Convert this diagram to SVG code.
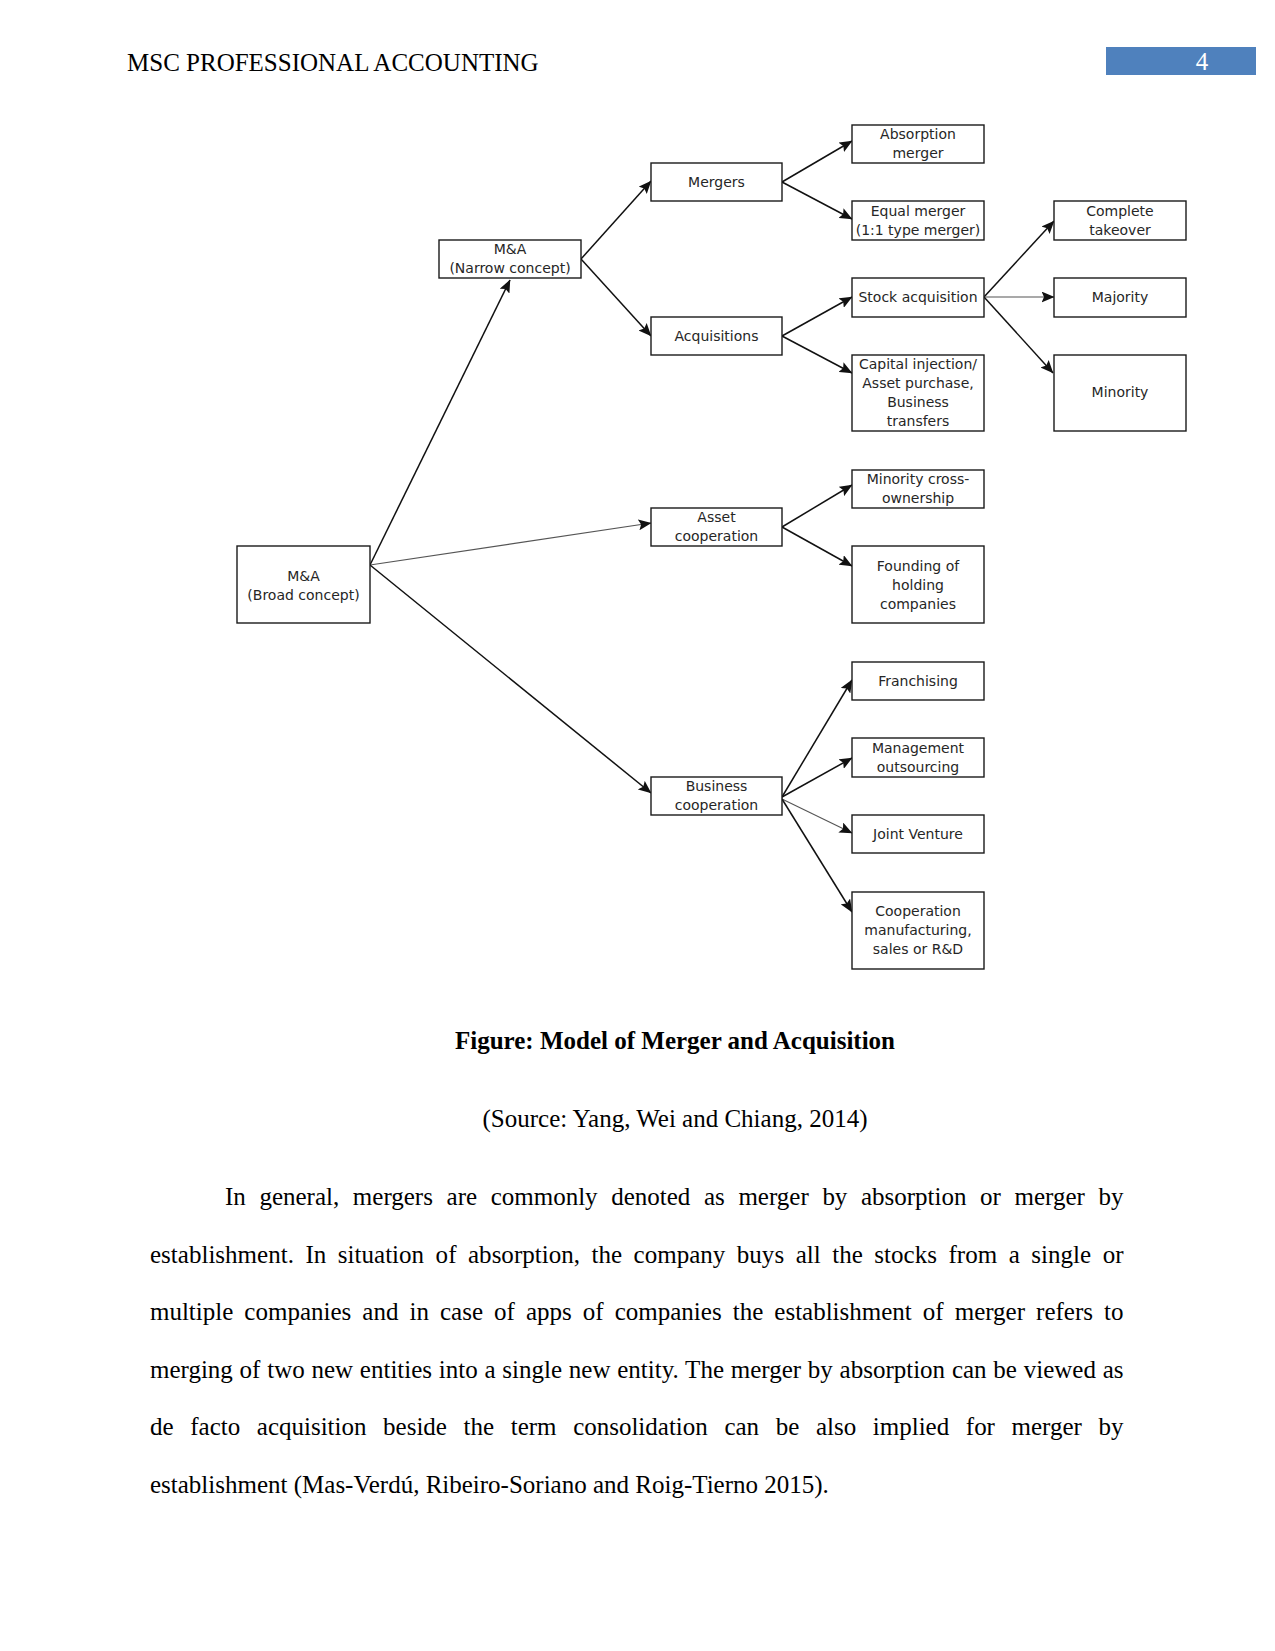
<svg xmlns="http://www.w3.org/2000/svg" width="1275" height="1651" viewBox="0 0 1275 1651">
<style>
.page{font-family:"Liberation Serif","Times New Roman",serif;font-size:25px;fill:#000}
.bold{font-weight:bold}
.box{fill:#fff;stroke:#1a1a1a;stroke-width:1.4}
.lbl{font-family:"DejaVu Sans",Verdana,sans-serif;font-size:14px;fill:#262626;text-anchor:middle}
.edge{stroke:#111;stroke-width:1.5;fill:none;marker-end:url(#ah)}
.thin{stroke:#555;stroke-width:1.1;fill:none;marker-end:url(#ah)}
</style>
<defs>
<marker id="ah" markerUnits="userSpaceOnUse" markerWidth="13" markerHeight="11" viewBox="0 0 13 11" refX="12.5" refY="5.5" orient="auto">
<path d="M0,0 L13,5.5 L0,11 L2.5,5.5 z" fill="#111"/>
</marker>
</defs>
<rect width="1275" height="1651" fill="#fff"/>
<!-- header -->
<text class="page" x="127" y="71">MSC PROFESSIONAL ACCOUNTING</text>
<rect x="1106" y="47" width="150" height="28" fill="#4F81BD"/>
<text class="page" x="1202" y="70" text-anchor="middle" style="fill:#fff">4</text>

<!-- connectors -->
<g id="connectors">
<line class="edge" x1="370" y1="565" x2="510" y2="280"/>
<line class="thin" x1="370" y1="565" x2="651" y2="523"/>
<line class="edge" x1="370" y1="565" x2="651" y2="793"/>
<line class="edge" x1="581" y1="259" x2="651" y2="181"/>
<line class="edge" x1="581" y1="259" x2="651" y2="336"/>
<line class="edge" x1="782" y1="182" x2="852" y2="141"/>
<line class="edge" x1="782" y1="182" x2="852" y2="219"/>
<line class="edge" x1="782" y1="336" x2="852" y2="297"/>
<line class="edge" x1="782" y1="336" x2="852" y2="373"/>
<line class="edge" x1="984" y1="297" x2="1054" y2="221"/>
<line class="thin" x1="984" y1="297" x2="1054" y2="297"/>
<line class="edge" x1="984" y1="297" x2="1053" y2="373"/>
<line class="edge" x1="782" y1="527" x2="852" y2="485"/>
<line class="edge" x1="782" y1="527" x2="852" y2="566"/>
<line class="edge" x1="782" y1="797" x2="852" y2="680"/>
<line class="edge" x1="782" y1="797" x2="852" y2="758"/>
<line class="thin" x1="782" y1="799" x2="852" y2="833"/>
<line class="edge" x1="782" y1="799" x2="852" y2="912"/>
</g>

<!-- nodes -->
<g id="broad"><rect class="box" x="237" y="546" width="133" height="77"/>
<text class="lbl" x="303.5" y="581">M&amp;A</text><text class="lbl" x="303.5" y="600">(Broad concept)</text></g>
<g id="narrow"><rect class="box" x="439" y="240" width="142" height="38"/>
<text class="lbl" x="510" y="254">M&amp;A</text><text class="lbl" x="510" y="273">(Narrow concept)</text></g>
<g id="mergers"><rect class="box" x="651" y="163" width="131" height="38"/>
<text class="lbl" x="716.5" y="187">Mergers</text></g>
<g id="acquisitions"><rect class="box" x="651" y="317" width="131" height="38"/>
<text class="lbl" x="716.5" y="341">Acquisitions</text></g>
<g id="asset"><rect class="box" x="651" y="508" width="131" height="38"/>
<text class="lbl" x="716.5" y="522">Asset</text><text class="lbl" x="716.5" y="541">cooperation</text></g>
<g id="business"><rect class="box" x="651" y="777" width="131" height="38"/>
<text class="lbl" x="716.5" y="791">Business</text><text class="lbl" x="716.5" y="810">cooperation</text></g>

<g id="absorption"><rect class="box" x="852" y="125" width="132" height="38"/>
<text class="lbl" x="918" y="139">Absorption</text><text class="lbl" x="918" y="158">merger</text></g>
<g id="equal"><rect class="box" x="852" y="201" width="132" height="39"/>
<text class="lbl" x="918" y="216">Equal merger</text><text class="lbl" x="918" y="235">(1:1 type merger)</text></g>
<g id="stock"><rect class="box" x="852" y="278" width="132" height="39"/>
<text class="lbl" x="918" y="302">Stock acquisition</text></g>
<g id="capital"><rect class="box" x="852" y="355" width="132" height="76"/>
<text class="lbl" x="918" y="369">Capital injection/</text><text class="lbl" x="918" y="388">Asset purchase,</text><text class="lbl" x="918" y="407">Business</text><text class="lbl" x="918" y="426">transfers</text></g>
<g id="mincross"><rect class="box" x="852" y="470" width="132" height="38"/>
<text class="lbl" x="918" y="484">Minority cross-</text><text class="lbl" x="918" y="503">ownership</text></g>
<g id="founding"><rect class="box" x="852" y="546" width="132" height="77"/>
<text class="lbl" x="918" y="571">Founding of</text><text class="lbl" x="918" y="590">holding</text><text class="lbl" x="918" y="609">companies</text></g>
<g id="franchising"><rect class="box" x="852" y="662" width="132" height="38"/>
<text class="lbl" x="918" y="686">Franchising</text></g>
<g id="management"><rect class="box" x="852" y="738" width="132" height="39"/>
<text class="lbl" x="918" y="753">Management</text><text class="lbl" x="918" y="772">outsourcing</text></g>
<g id="jv"><rect class="box" x="852" y="815" width="132" height="38"/>
<text class="lbl" x="918" y="839">Joint Venture</text></g>
<g id="cooperation"><rect class="box" x="852" y="892" width="132" height="77"/>
<text class="lbl" x="918" y="916">Cooperation</text><text class="lbl" x="918" y="935">manufacturing,</text><text class="lbl" x="918" y="954">sales or R&amp;D</text></g>

<g id="complete"><rect class="box" x="1054" y="201" width="132" height="39"/>
<text class="lbl" x="1120" y="216">Complete</text><text class="lbl" x="1120" y="235">takeover</text></g>
<g id="majority"><rect class="box" x="1054" y="278" width="132" height="39"/>
<text class="lbl" x="1120" y="302">Majority</text></g>
<g id="minority"><rect class="box" x="1054" y="355" width="132" height="76"/>
<text class="lbl" x="1120" y="397">Minority</text></g>

<!-- caption -->
<text class="page bold" x="675" y="1049" text-anchor="middle">Figure: Model of Merger and Acquisition</text>
<text class="page" x="675" y="1127" text-anchor="middle">(Source: Yang, Wei and Chiang, 2014)</text>

<!-- paragraph -->
<text class="page" x="225" y="1205" word-spacing="7.4" textLength="898.5" lengthAdjust="spacing">In general, mergers are commonly denoted as merger by absorption or merger by</text>
<text class="page" x="150" y="1262.6" word-spacing="5.28" textLength="973.5" lengthAdjust="spacing">establishment. In situation of absorption, the company buys all the stocks from a single or</text>
<text class="page" x="150" y="1320.2" word-spacing="4.84" textLength="973.5" lengthAdjust="spacing">multiple companies and in case of apps of companies the establishment of merger refers to</text>
<text class="page" x="150" y="1377.8" word-spacing="0.52" textLength="973.5" lengthAdjust="spacing">merging of two new entities into a single new entity. The merger by absorption can be viewed as</text>
<text class="page" x="150" y="1435.4" word-spacing="10.4" textLength="973.5" lengthAdjust="spacing">de facto acquisition beside the term consolidation can be also implied for merger by</text>
<text class="page" x="150" y="1493">establishment (Mas-Verdú, Ribeiro-Soriano and Roig-Tierno 2015).</text>
</svg>
